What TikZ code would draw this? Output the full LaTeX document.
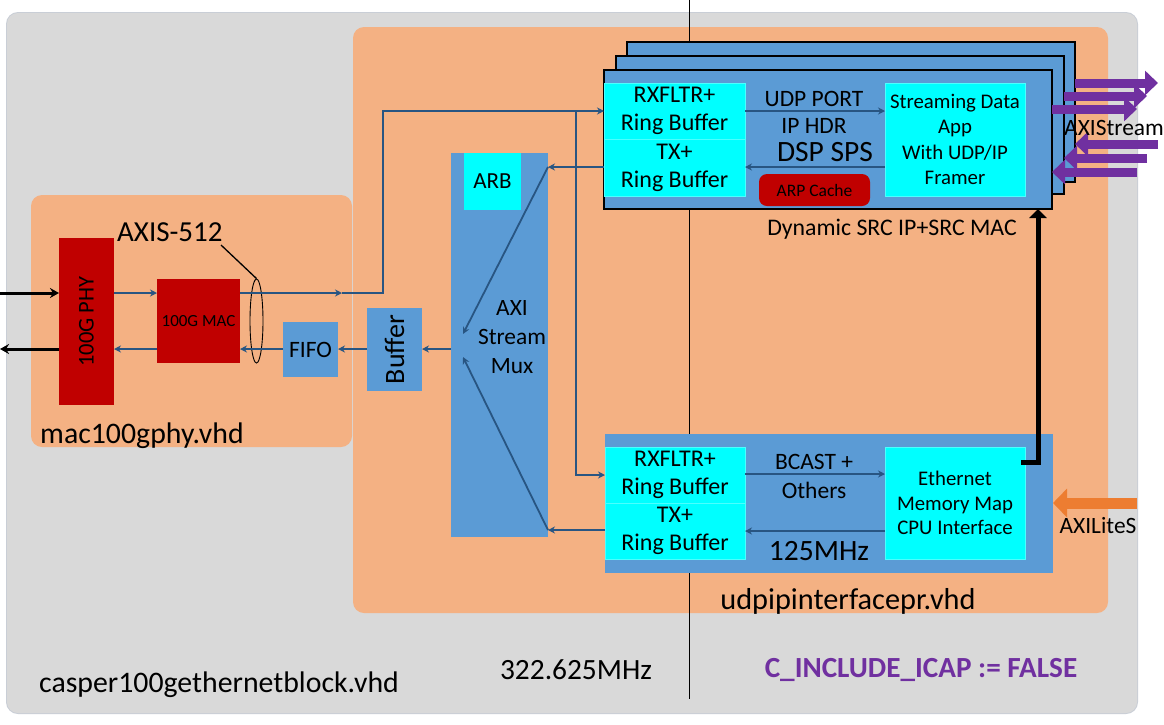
\documentclass[tikz,border=0pt]{standalone}
\usepackage{fontspec}
\setmainfont{Carlito}
\usetikzlibrary{arrows.meta,shapes.geometric,calc}
\definecolor{cgray}{HTML}{D9D9D9}
\definecolor{corange}{HTML}{F4B183}
\definecolor{cblue}{HTML}{5B9BD5}
\definecolor{ccyan}{HTML}{00FFFF}
\definecolor{cred}{HTML}{C00000}
\definecolor{cconn}{RGB}{40,85,130}
\definecolor{cpurple}{HTML}{7030A0}
\definecolor{carrow}{HTML}{ED7D31}
\definecolor{cborder}{HTML}{C9CED6}
\newcommand{\fs}[2]{\fontsize{#1}{#2}\selectfont}
\begin{document}
\begin{tikzpicture}[x=1pt,y=-1pt,
  box/.style={inner sep=0pt,outer sep=0pt,anchor=north west},
  bluebox/.style={box,fill=cblue},
  stackbox/.style={box,fill=cblue,draw=black,line width=1.2pt},
  cyanbox/.style={box,fill=ccyan,draw=ccyan!70!white,line width=0.6pt,align=center},
  redbox/.style={box,fill=cred},
  conn/.style={draw=cconn,line width=1.8pt,-{Stealth[length=7pt,width=7pt]}},
  connplain/.style={draw=cconn,line width=1.8pt},
  blackio/.style={draw=black,line width=3pt,-{Stealth[length=9pt,width=10pt]}},
  bigarr/.style={draw=cpurple,line width=9pt,-{Triangle[length=13pt,width=24pt]}},
  txt/.style={inner sep=0pt,align=center}]
\fill[white] (0,0) rectangle (1164,724);
\useasboundingbox (0,0) rectangle (1164,724);
% backgrounds
\fill[cborder,rounded corners=12pt] (6,12) rectangle (1138,714);
\node[box,fill=cgray,rounded corners=11pt,minimum width=1130pt,minimum height=700pt] (outer) at (7,13) {};
\node[box,fill=corange,rounded corners=11pt,minimum width=755pt,minimum height=586pt] (udp) at (353,27) {};
\node[box,fill=corange,rounded corners=11pt,minimum width=321pt,minimum height=252pt] (macbox) at (31,195) {};
% vertical clock line
\coordinate (vtop) at (689,0);
\coordinate (vbot) at (689,699);
\draw[black,line width=0.7pt] (vtop) -- (vbot);
% mac100gphy content
\node[redbox,minimum width=55pt,minimum height=167pt] (phy) at (59,238) {};
\node[txt,rotate=90,font=\fs{22.5}{27}] at (phy.center) {100G PHY};
\node[redbox,minimum width=83pt,minimum height=84pt,font=\fs{17}{20}] (mac) at (157,279) {100G MAC};
\node[bluebox,minimum width=55pt,minimum height=55pt,font=\fs{23.5}{28}] (fifo) at (283,322) {FIFO};
\node[bluebox,minimum width=55pt,minimum height=83pt] (buffer) at (367,308) {};
\node[txt,rotate=90,font=\fs{28}{32}] at (buffer.center) {Buffer};
\node[txt,font=\fs{29.8}{34},anchor=base west] (maclbl) at (40,443) {mac100gphy.vhd};
\node[txt,font=\fs{29}{34},anchor=base west] (axislbl) at (117,241) {AXIS-512};
\node[draw=black,line width=0.9pt,ellipse,minimum width=13pt,minimum height=84pt,inner sep=0pt] (bundle) at (256.5,321) {};
\coordinate (lead) at (221,245);
\draw[black,line width=1.3pt] (lead) -- (bundle.north);
% mux
\node[bluebox,minimum width=97pt,minimum height=384pt] (mux) at (451,153) {};
\node[box,fill=ccyan,minimum width=57pt,minimum height=57pt,font=\fs{23}{28}] (arb) at (464,153) {ARB};
\node[txt,font=\fs{23.4}{29}] (muxlbl) at (512,337) {AXI\\Stream\\Mux};
% stacked upper boxes
\node[stackbox,minimum width=448pt,minimum height=140pt] (s3) at (627,42) {};
\node[stackbox,minimum width=448pt,minimum height=138pt] (s2) at (616,56) {};
\node[stackbox,minimum width=448pt,minimum height=139pt] (s1) at (604,70) {};
\node[cyanbox,minimum width=141pt,minimum height=56pt,font=\fs{24}{28}] (rx1) at (604,83) {RXFLTR+\\Ring Buffer};
\node[cyanbox,minimum width=141pt,minimum height=57pt,font=\fs{24}{28}] (tx1) at (604,139) {TX+\\Ring Buffer};
\node[cyanbox,minimum width=140pt,minimum height=113pt,font=\fs{20.8}{25.3}] (app) at (885,83) {Streaming Data\\App\\With UDP/IP\\Framer};
\node[txt,font=\fs{23.5}{28}] (udpport) at (814,99) {UDP PORT};
\node[txt,font=\fs{23.5}{28}] (iphdr) at (814,126) {IP HDR};
\node[txt,font=\fs{29.5}{34}] (dsp) at (825,152) {DSP SPS};
\node[box,fill=cred,rounded corners=8pt,minimum width=111pt,minimum height=32pt,font=\fs{17.5}{20}] (arp) at (759,174) {ARP Cache};
\node[txt,font=\fs{23.8}{28}] (dyn) at (892,229) {Dynamic SRC IP+SRC MAC};
% lower box
\node[bluebox,minimum width=448pt,minimum height=139pt] (low) at (605,434) {};
\node[cyanbox,minimum width=140pt,minimum height=56pt,font=\fs{24}{28}] (rx2) at (605,447) {RXFLTR+\\Ring Buffer};
\node[cyanbox,minimum width=140pt,minimum height=56pt,font=\fs{24}{28}] (tx2) at (605,503) {TX+\\Ring Buffer};
\node[cyanbox,minimum width=140pt,minimum height=112pt,font=\fs{20.8}{24.5}] (eth) at (885,447) {Ethernet\\Memory Map\\CPU Interface};
\node[txt,font=\fs{23.5}{28}] (bcast) at (814,462) {BCAST +};
\node[txt,font=\fs{23.5}{28}] (others) at (814,490) {Others};
\node[txt,font=\fs{29.5}{34}] (mhz125) at (819,551) {125MHz};
\node[txt,font=\fs{30.3}{34}] (udplbl) at (848,601) {udpipinterfacepr.vhd};
% bottom labels
\node[txt,font=\fs{29.8}{34}] (casper) at (219,685) {casper100gethernetblock.vhd};
\node[txt,font=\fs{29.4}{34}] (mhz322) at (576,670) {322.625MHz};
\node[txt,font=\bfseries\fs{29.2}{34},text=cpurple] (icap) at (921,670) {C\_INCLUDE\_ICAP := FALSE};
% left io
\coordinate (inL) at (0,293);
\coordinate (outL) at (0,349);
\draw[blackio] (inL) -- (phy.west |- inL);
\draw[blackio] (phy.west |- outL) -- (outL);
% thin connectors
\coordinate (mid1) at (342,293);
\coordinate (up1) at (383,293);
\coordinate (up2) at (383,111);
\coordinate (br) at (576,111);
\coordinate (br2) at (576,475);
\draw[conn] (phy.east |- inL) -- (mac.west |- inL);
\draw[conn] (mac.east |- inL) -- (mid1);
\draw[connplain] (mid1) -- (up1) -- (up2) -- (br);
\draw[conn] (br) -- (rx1.west |- br);
\draw[conn] (br) -- (br2) -- (rx2.west |- br2);
\coordinate (mt) at (548,167);
\coordinate (mb) at (548,530);
\coordinate (mdt) at (463,334);
\coordinate (mdb) at (463,357);
\draw[conn] (tx1.west |- mt) -- (mt);
\draw[conn] (mt) -- (mdt);
\draw[conn] (tx2.west |- mb) -- (mb);
\draw[conn] (mb) -- (mdb);
\draw[conn] (mux.west |- outL) -- (buffer.east |- outL);
\draw[conn] (buffer.west |- outL) -- (fifo.east |- outL);
\draw[conn] (fifo.west |- outL) -- (mac.east |- outL);
\draw[conn] (mac.west |- outL) -- (phy.east |- outL);
\coordinate (a1) at (745,111);
\coordinate (a2) at (745,167);
\draw[conn] (rx1.east |- a1) -- (app.west |- a1);
\draw[conn] (app.west |- a2) -- (tx1.east |- a2);
\coordinate (b1) at (745,474);
\coordinate (b2) at (745,531);
\draw[conn] (rx2.east |- b1) -- (eth.west |- b1);
\draw[conn] (eth.west |- b2) -- (tx2.east |- b2);
% thick black link
\coordinate (k1) at (1021,462);
\coordinate (k2) at (1038,462);
\draw[black,line width=5pt,miter limit=10,-{Triangle[length=9pt,width=17pt]}] (k1) -- (k2) -- (k2 |- s1.south);
% purple axistream arrows
\coordinate (po1) at (1158,83);
\coordinate (po2) at (1147,96);
\coordinate (po3) at (1137,109);
\draw[bigarr] (s3.east |- po1) -- (po1);
\draw[bigarr] (s2.east |- po2) -- (po2);
\draw[bigarr] (s1.east |- po3) -- (po3);
\coordinate (pi1) at (1158,144);
\coordinate (pi2) at (1147,158);
\coordinate (pi3) at (1137,172);
\draw[bigarr] (pi1) -- (s3.east |- pi1);
\draw[bigarr] (pi2) -- (s2.east |- pi2);
\draw[bigarr] (pi3) -- (s1.east |- pi3);
\node[txt,font=\fs{23.4}{28}] (axis) at (1114,128) {AXIStream};
% axilite
\coordinate (al) at (1137,503);
\draw[carrow,line width=11pt,-{Triangle[length=14pt,width=28pt]}] (al) -- (low.east |- al);
\node[txt,font=\fs{23.4}{28}] (axil) at (1098,526) {AXILiteS};
\end{tikzpicture}
\end{document}
